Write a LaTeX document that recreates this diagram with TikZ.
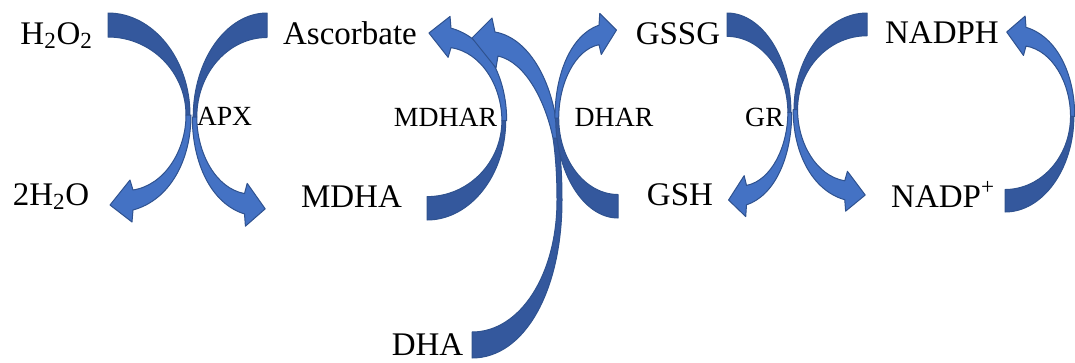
\documentclass[tikz,border=0pt]{standalone}
\usepackage{fontspec}
\setmainfont{Liberation Serif}
\definecolor{arrlight}{RGB}{68,114,196}
\definecolor{arrdark}{RGB}{52,88,157}
\definecolor{arrline}{RGB}{47,82,143}
\tikzset{
  darkpart/.style={fill=arrdark, draw=arrline, line width=0.75pt, line join=round},
  lightpart/.style={fill=arrlight, draw=arrline, line width=0.75pt, line join=round},
  chem/.style={font=\fontsize{24.75}{28}\selectfont, inner sep=0pt, anchor=base},
  enz/.style={font=\fontsize{20.8}{24}\selectfont, inner sep=0pt, anchor=base},
}
\newcommand\curvedarrowshape{%
  \path[darkpart] (0,0) .. controls (45,0) and (82,46) .. (82,102) -- (78,102)
     .. controls (78,59) and (43,24) .. (0,24) -- cycle;
  \path[lightpart] (78,102) .. controls (78,137) and (57,172) .. (25,177)
     -- (22,167) -- (2,192) -- (24,209) -- (25,197)
     .. controls (62,187) and (83,147) .. (83,102) -- cycle;
}
\begin{document}
\begin{tikzpicture}[x=0.75pt,y=-0.75pt]
\useasboundingbox (0,0) rectangle (1075,362);
% texts
\node[chem] (h2o2)  at (56.5,44) {H\textsubscript{2}O\textsubscript{2}};
\node[chem] (h2o)   at (51,205)  {2H\textsubscript{2}O};
\node[chem] (asc)   at (350,44)  {Ascorbate};
\node[chem] (mdha)  at (351.5,207) {MDHA};
\node[chem] (gssg)  at (678,44)  {GSSG};
\node[chem] (gsh)   at (680,205) {GSH};
\node[chem] (nadph) at (942,43)  {NADPH};
\node[chem] (nadp)  at (943,207) {NADP\textsuperscript{+}};
\node[chem] (dha)   at (427.5,355) {DHA};
\node[enz] (apx)   at (224.5,125) {APX};
\node[enz] (mdhar) at (445.5,126) {MDHAR};
\node[enz] (dhar)  at (614,126)   {DHAR};
\node[enz] (gr)    at (764.5,126) {GR};
% APX arrows
\begin{scope}[shift={(108,13)}] \curvedarrowshape \end{scope}
\begin{scope}[shift={(267,13)}, xscale=-0.90, yscale=1.02] \curvedarrowshape \end{scope}
% MDHAR arrow
\begin{scope}[shift={(427,220)}, xscale=0.96, yscale=-0.974] \curvedarrowshape \end{scope}
% DHA arrow
\path[darkpart] (472,358) .. controls (525,358) and (562,290) .. (562,200)
   .. controls (562,170) and (560,152) .. (558,138) -- (553,138)
   .. controls (556,158) and (557,180) .. (557,200)
   .. controls (557,275) and (520,332) .. (472,332) -- cycle;
\path[lightpart] (553,138) .. controls (545,100) and (525,62) .. (498,56)
   -- (496,68) -- (472,38) -- (492,18) -- (495,32)
   .. controls (530,38) and (555,85) .. (558,138) -- cycle;
% DHAR arrow
\begin{scope}[shift={(618,218)}, xscale=-0.76, yscale=-0.979] \curvedarrowshape \end{scope}
% GR arrows
\begin{scope}[shift={(727,13)}, xscale=0.78, yscale=0.974] \curvedarrowshape \end{scope}
\begin{scope}[shift={(867,13)}, xscale=-0.89, yscale=0.948] \curvedarrowshape \end{scope}
% NADP+ -> NADPH
\begin{scope}[shift={(1005,212)}, xscale=0.84, yscale=-0.9375] \curvedarrowshape \end{scope}
\end{tikzpicture}
\end{document}
